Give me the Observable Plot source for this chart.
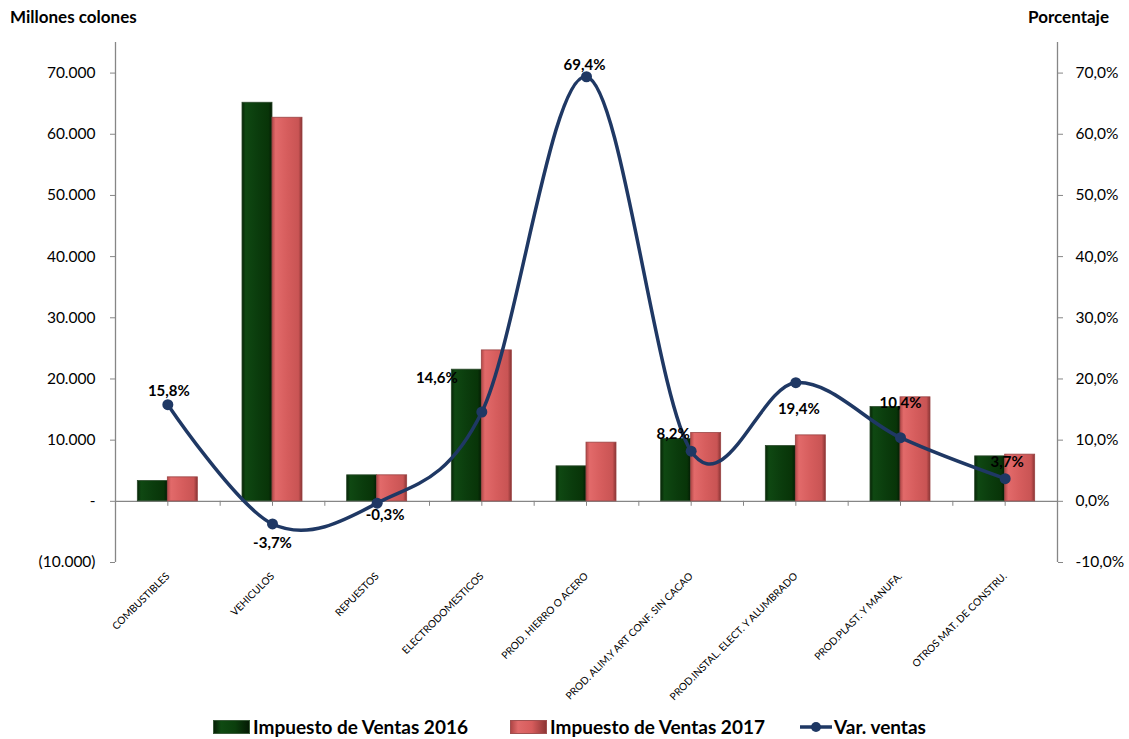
<!DOCTYPE html>
<html>
<head>
<meta charset="utf-8">
<script src="https://cdn.jsdelivr.net/npm/d3@7"></script>
<script src="https://cdn.jsdelivr.net/npm/@observablehq/plot@0.6"></script>
<style>
  html, body { margin: 0; padding: 0; background: #fff; }
  #wrap { position: relative; width: 1129px; height: 739px; font-family: Lato, "Open Sans", sans-serif; }
  .axtitle { position: absolute; top: 6px; font-weight: bold; font-size: 17px; color: #000; }
  #legend { position: absolute; top: 714px; left: 0; width: 1129px; height: 25px; }
  .li { position: absolute; top: 0; display: flex; align-items: center; font-weight: bold; font-size: 19px; color: #000; height: 25px; }
  .sw { width: 37px; height: 14px; margin-right: 3px; box-sizing: border-box; }
</style>
</head>
<body>
<div id="wrap">
  <div class="axtitle" style="left:10px;">Millones colones</div>
  <div class="axtitle" style="right:20px;">Porcentaje</div>
  <div id="chart"></div>
  <div id="legend">
    <div class="li" style="left:213px;"><div class="sw" style="background:linear-gradient(90deg,#061f06,#0f4a12 20%,#0b3f0d 60%,#051a05);border:1px solid #3a5a3a;"></div>Impuesto de Ventas 2016</div>
    <div class="li" style="left:510px;"><div class="sw" style="background:linear-gradient(90deg,#b04646,#e06a6a 20%,#d65c5c 60%,#8e3636);border:1px solid #a05050;"></div>Impuesto de Ventas 2017</div>
    <div class="li" style="left:800px;"><svg width="33" height="14" style="margin-right:1px"><line x1="0" y1="7" x2="32" y2="7" stroke="#1f3864" stroke-width="3.5"/><circle cx="16" cy="7" r="5" fill="#1f3864"/></svg>Var. ventas</div>
  </div>
</div>
<script>
// ---- data ----
const categories = [
  "COMBUSTIBLES", "VEHICULOS", "REPUESTOS", "ELECTRODOMESTICOS",
  "PROD. HIERRO O ACERO", "PROD. ALIM.Y ART CONF. SIN CACAO",
  "PROD.INSTAL. ELECT. Y ALUMBRADO", "PROD.PLAST. Y MANUFA.", "OTROS MAT. DE CONSTRU."
];
const ventas2016 = [3320, 65150, 4250, 21520, 5720, 10180, 9040, 15410, 7350];
const ventas2017 = [3920, 62700, 4250, 24670, 9590, 11160, 10780, 17000, 7630];
const varVentas = [15.8, -3.7, -0.3, 14.6, 69.4, 8.2, 19.4, 10.4, 3.7];
const yTicks = [-10000, 0, 10000, 20000, 30000, 40000, 50000, 60000, 70000];

// ---- tables ----
const rows = categories.map((c, i) => ({cat: c, v16: ventas2016[i], v17: ventas2017[i], pct: varVentas[i]}));

const W = 1129, H = 710;
const mL = 115, mR = 72, mT = 42, mB = 148;
const bw = (W - mL - mR) / categories.length;
const barW = 30;

const thou = d => d3.format(",")(d).replace(/,/g, ".");
const leftFmt = d => d === 0 ? "-" : d < 0 ? "(" + thou(-d) + ")" : thou(d);
const pctFmt = v => v.toFixed(1).replace(".", ",") + "%";
const rightFmt = d => pctFmt(d / 1000);

// label placement (styling, per category)
const labelOffset = {
  "COMBUSTIBLES": [1, -13],
  "VEHICULOS": [0, 19],
  "REPUESTOS": [8, 12],
  "ELECTRODOMESTICOS": [-45, -34],
  "PROD. HIERRO O ACERO": [-2, -12],
  "PROD. ALIM.Y ART CONF. SIN CACAO": [-18, -17],
  "PROD.INSTAL. ELECT. Y ALUMBRADO": [3, 27],
  "PROD.PLAST. Y MANUFA.": [0, -35],
  "OTROS MAT. DE CONSTRU.": [2, -17]
};

const svgNS = "http://www.w3.org/2000/svg";
function defs() {
  const d = document.createElementNS(svgNS, "defs");
  const mk = (id, stops) => {
    const g = document.createElementNS(svgNS, "linearGradient");
    g.setAttribute("id", id);
    g.setAttribute("x1", "0"); g.setAttribute("x2", "1"); g.setAttribute("y1", "0"); g.setAttribute("y2", "0");
    for (const [o, c] of stops) {
      const s = document.createElementNS(svgNS, "stop");
      s.setAttribute("offset", o); s.setAttribute("stop-color", c);
      g.appendChild(s);
    }
    d.appendChild(g);
  };
  mk("gGreen", [[0, "#062406"], [0.12, "#0f4812"], [0.5, "#0b3d0d"], [0.88, "#083408"], [1, "#041c04"]]);
  mk("gRed", [[0, "#b24848"], [0.12, "#e26a6a"], [0.5, "#d65d5d"], [0.88, "#c95454"], [1, "#8a3434"]]);
  return d;
}

const chart = Plot.plot({
  width: W, height: H,
  marginLeft: mL, marginRight: mR, marginTop: mT, marginBottom: mB,
  style: {fontFamily: "Lato, 'Open Sans', sans-serif", background: "#fff", color: "#000"},
  x: {type: "band", domain: categories, padding: 0, round: false, axis: null},
  y: {domain: [-10000, 75000], axis: null},
  marks: [
    defs,
    // axis lines
    Plot.ruleX([categories[0]], {x: d => d, y1: -10000, y2: 75000, dx: -bw / 2, stroke: "#868686", strokeWidth: 1.3}),
    Plot.ruleX([categories[categories.length - 1]], {x: d => d, y1: -10000, y2: 75000, dx: bw / 2, stroke: "#868686", strokeWidth: 1.3}),
    Plot.ruleY([0], {stroke: "#868686", strokeWidth: 1.3}),
    // x ticks at centers and boundaries on zero line
    Plot.ruleX(categories, {x: d => d, y1: 0, y2: 0, insetBottom: -5, stroke: "#868686"}),
    Plot.ruleX(categories.slice(0, -1), {x: d => d, y1: 0, y2: 0, insetBottom: -5, dx: bw / 2, stroke: "#868686"}),
    // bars
    Plot.barY(rows, {x: "cat", y: "v16", insetLeft: bw / 2 - barW, insetRight: bw / 2, fill: "url(#gGreen)", stroke: "#2c4a2c", strokeWidth: 0.8}),
    Plot.barY(rows, {x: "cat", y: "v17", insetLeft: bw / 2, insetRight: bw / 2 - barW, fill: "url(#gRed)", stroke: "#9a4444", strokeWidth: 0.8}),
    // axes
    Plot.axisY({anchor: "left", ticks: yTicks, tickFormat: leftFmt, tickSize: 5, tickPadding: 15, fontSize: 15.5, stroke: "#868686", label: null}),
    Plot.axisY({anchor: "right", ticks: yTicks, tickFormat: rightFmt, tickSize: 5, tickPadding: 13, fontSize: 15.5, stroke: "#868686", label: null}),
    Plot.axisX({anchor: "bottom", tickSize: 0, tickRotate: -45, tickPadding: 12, fontSize: 10.2, label: null}),
    // line
    Plot.line(rows, {x: "cat", y: d => d.pct * 1000, curve: "cardinal", tension: 0, stroke: "#1f3864", strokeWidth: 3.5}),
    Plot.dot(rows, {x: "cat", y: d => d.pct * 1000, r: 5.5, fill: "#1f3864"}),
    ...categories.map(c => Plot.text(rows, {
      filter: d => d.cat === c, x: "cat", y: d => d.pct * 1000, text: d => pctFmt(d.pct),
      dx: labelOffset[c][0], dy: labelOffset[c][1], fontSize: 15, fontWeight: "bold", fill: "#000"
    }))
  ]
});
document.getElementById("chart").appendChild(chart);
</script>
</body>
</html>
